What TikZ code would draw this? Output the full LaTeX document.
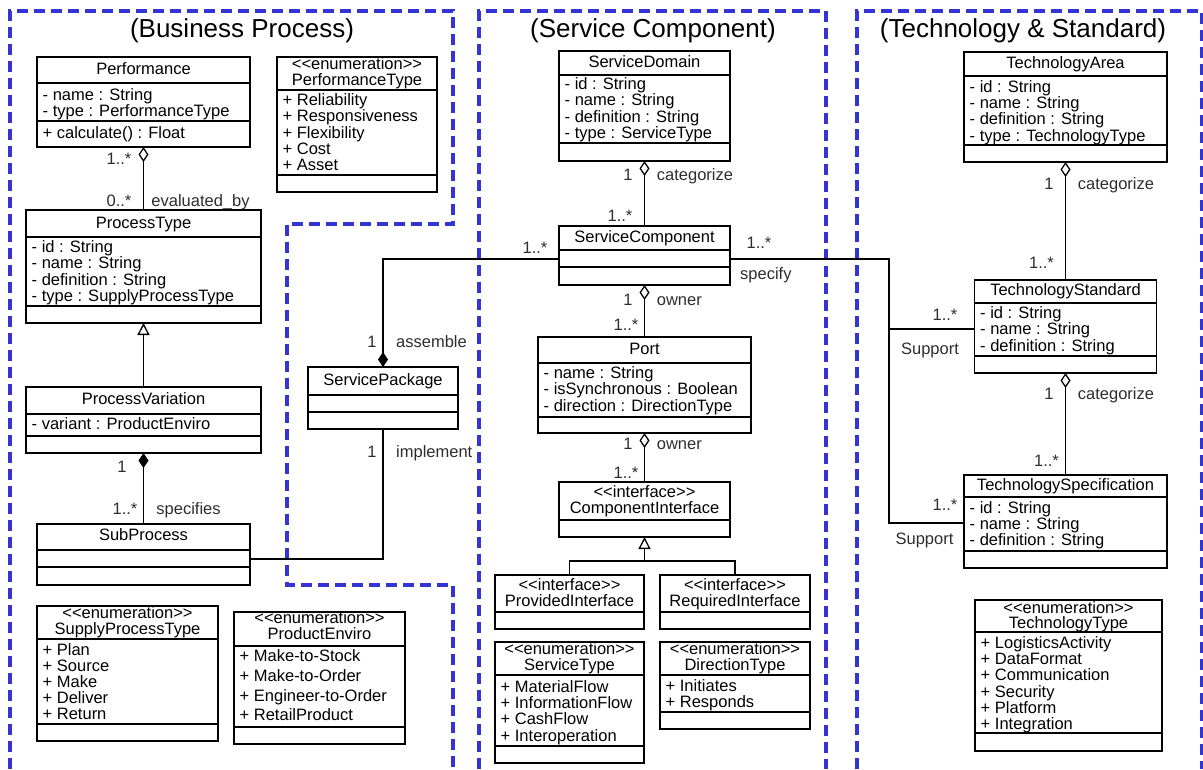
\documentclass[tikz,border=0pt]{standalone}
\usepackage{fontspec}
\setmainfont{Liberation Sans}
\usetikzlibrary{arrows.meta}
\definecolor{pkg}{RGB}{51,51,214}
\definecolor{lab}{RGB}{45,45,45}
\newcommand\stereo[1]{<\kern0pt<#1>\kern0pt>}

\begin{document}
\begin{tikzpicture}[x=1pt, y=-1pt,
    cls/.style={draw, line width=1.6pt, inner sep=0pt, outer sep=0pt},
    sep/.style={line width=1.6pt},
    hdr/.style={anchor=base, inner sep=0pt, align=center, font=\fontsize{16.5}{16}\selectfont},
    txt/.style={anchor=base west, inner sep=0pt, align=left, font=\fontsize{16.5}{16.2}\selectfont},
    lbl/.style={anchor=base, inner sep=0pt, text=lab, font=\fontsize{16.5}{16}\selectfont},
    con/.style={line width=1.3pt},
    agg/.style={con, {Diamond[open, length=15pt, width=10pt]}-},
    cmp/.style={con, {Diamond[length=15pt, width=10pt]}-},
    gen/.style={con, -{Triangle[open, length=12pt, width=12pt]}},
    pkgline/.style={pkg, line width=3.5pt, dash pattern=on 11pt off 6pt},
    ttl/.style={anchor=base, inner sep=0pt, font=\fontsize{26}{26}\selectfont}]
  \useasboundingbox (0,0) rectangle (1203,769);

  \draw[pkgline] (10,769) -- (10,11) -- (453,11) -- (453,224) -- (287,224) -- (287,585) -- (453,585) -- (453,769);
  \draw[pkgline] (479,769) -- (479,11) -- (826,11) -- (826,769);
  \draw[pkgline] (857,769) -- (857,11) -- (1202,11) -- (1202,769);
  \node[ttl] at (242,37) {(Business Process)};
  \node[ttl] at (653,37) {(Service Component)};
  \node[ttl] at (1023,37) {(Technology \& Standard)};

  \node[cls, minimum width=213pt, minimum height=90pt] (perf) at (143.5,102) {};
  \draw[sep] ([yshift=-26pt]perf.north west) -- ([yshift=-26pt]perf.north east);
  \draw[sep] ([yshift=-64pt]perf.north west) -- ([yshift=-64pt]perf.north east);
  \node[hdr] at (143.5,74.7) {Performance};
  \node[txt] at (42.5,116.9) {- name : String\\- type : PerformanceType};
  \node[txt] at (42.5,138.7) {+ calculate() : Float};

  \node[cls, minimum width=160pt, minimum height=135pt] (perftype) at (357,124.5) {};
  \draw[sep] ([yshift=-33pt]perftype.north west) -- ([yshift=-33pt]perftype.north east);
  \draw[sep] ([yshift=-118pt]perftype.north west) -- ([yshift=-118pt]perftype.north east);
  \node[hdr] at (357,85) {\stereo{enumeration}\\PerformanceType};
  \node[txt] at (282.5,170.5) {+ Reliability\\+ Responsiveness\\+ Flexibility\\+ Cost\\+ Asset};

  \node[cls, minimum width=235pt, minimum height=113pt] (proctype) at (143.5,266.5) {};
  \draw[sep] ([yshift=-27pt]proctype.north west) -- ([yshift=-27pt]proctype.north east);
  \draw[sep] ([yshift=-96pt]proctype.north west) -- ([yshift=-96pt]proctype.north east);
  \node[hdr] at (143.5,228.7) {ProcessType};
  \node[txt] at (31.5,301.3) {- id : String\\- name : String\\- definition : String\\- type : SupplyProcessType};

  \node[cls, minimum width=235pt, minimum height=66pt] (procvar) at (143.5,420) {};
  \draw[sep] ([yshift=-27pt]procvar.north west) -- ([yshift=-27pt]procvar.north east);
  \draw[sep] ([yshift=-49pt]procvar.north west) -- ([yshift=-49pt]procvar.north east);
  \node[hdr] at (143.5,404.7) {ProcessVariation};
  \node[txt] at (31.5,429.7) {- variant : ProductEnviro};

  \node[cls, minimum width=213pt, minimum height=61pt] (subproc) at (143.5,554.5) {};
  \draw[sep] ([yshift=-26pt]subproc.north west) -- ([yshift=-26pt]subproc.north east);
  \draw[sep] ([yshift=-43pt]subproc.north west) -- ([yshift=-43pt]subproc.north east);
  \node[hdr] at (143.5,540.7) {SubProcess};

  \node[cls, minimum width=181pt, minimum height=135pt] (supplytype) at (127.5,673.5) {};
  \draw[sep] ([yshift=-33pt]supplytype.north west) -- ([yshift=-33pt]supplytype.north east);
  \draw[sep] ([yshift=-118pt]supplytype.north west) -- ([yshift=-118pt]supplytype.north east);
  \node[hdr] at (127.5,634) {\stereo{enumeration}\\SupplyProcessType};
  \node[txt] at (42.5,719.8) {+ Plan\\+ Source\\+ Make\\+ Deliver\\+ Return};

  \node[cls, minimum width=171pt, minimum height=132pt] (prodenv) at (319.5,678) {};
  \draw[sep] ([yshift=-34pt]prodenv.north west) -- ([yshift=-34pt]prodenv.north east);
  \draw[sep] ([yshift=-115pt]prodenv.north west) -- ([yshift=-115pt]prodenv.north east);
  \node[hdr] at (319.5,639) {\stereo{enumeration}\\ProductEnviro};
  \node[txt, font=\fontsize{16.5}{19.7}\selectfont] at (239.5,720.8) {+ Make-to-Stock\\+ Make-to-Order\\+ Engineer-to-Order\\+ RetailProduct};

  \node[cls, minimum width=150pt, minimum height=62pt] (servpkg) at (383,398) {};
  \draw[sep] ([yshift=-28pt]servpkg.north west) -- ([yshift=-28pt]servpkg.north east);
  \draw[sep] ([yshift=-45pt]servpkg.north west) -- ([yshift=-45pt]servpkg.north east);
  \node[hdr] at (383,385) {ServicePackage};

  \node[cls, minimum width=171pt, minimum height=110pt] (servdom) at (644.5,106) {};
  \draw[sep] ([yshift=-24pt]servdom.north west) -- ([yshift=-24pt]servdom.north east);
  \draw[sep] ([yshift=-92pt]servdom.north west) -- ([yshift=-92pt]servdom.north east);
  \node[hdr] at (644.5,67.4) {ServiceDomain};
  \node[txt] at (564.5,138.3) {- id : String\\- name : String\\- definition : String\\- type : ServiceType};

  \node[cls, minimum width=171pt, minimum height=59pt] (servcomp) at (644.5,255.5) {};
  \draw[sep] ([yshift=-24pt]servcomp.north west) -- ([yshift=-24pt]servcomp.north east);
  \draw[sep] ([yshift=-41pt]servcomp.north west) -- ([yshift=-41pt]servcomp.north east);
  \node[hdr] at (644.5,242.4) {ServiceComponent};

  \node[cls, minimum width=213pt, minimum height=96pt] (port) at (644.5,385) {};
  \draw[sep] ([yshift=-26pt]port.north west) -- ([yshift=-26pt]port.north east);
  \draw[sep] ([yshift=-80pt]port.north west) -- ([yshift=-80pt]port.north east);
  \node[hdr] at (644.5,354) {Port};
  \node[txt] at (543.5,411.1) {- name : String\\- isSynchronous : Boolean\\- direction : DirectionType};

  \node[cls, minimum width=171pt, minimum height=55pt] (compif) at (644.5,509.5) {};
  \draw[sep] ([yshift=-38pt]compif.north west) -- ([yshift=-38pt]compif.north east);
  \node[hdr] at (644.5,513) {\stereo{interface}\\ComponentInterface};

  \node[cls, minimum width=149pt, minimum height=54pt] (provif) at (569.5,602) {};
  \draw[sep] ([yshift=-37pt]provif.north west) -- ([yshift=-37pt]provif.north east);
  \node[hdr] at (569.5,606) {\stereo{interface}\\ProvidedInterface};

  \node[cls, minimum width=150pt, minimum height=54pt] (reqif) at (735,602) {};
  \draw[sep] ([yshift=-37pt]reqif.north west) -- ([yshift=-37pt]reqif.north east);
  \node[hdr] at (735,606) {\stereo{interface}\\RequiredInterface};

  \node[cls, minimum width=149pt, minimum height=121pt] (servtype) at (569.5,702.5) {};
  \draw[sep] ([yshift=-33pt]servtype.north west) -- ([yshift=-33pt]servtype.north east);
  \draw[sep] ([yshift=-104pt]servtype.north west) -- ([yshift=-104pt]servtype.north east);
  \node[hdr] at (569.5,670) {\stereo{enumeration}\\ServiceType};
  \node[txt] at (500.5,741) {+ MaterialFlow\\+ InformationFlow\\+ CashFlow\\+ Interoperation};

  \node[cls, minimum width=150pt, minimum height=87pt] (dirtype) at (735,685.5) {};
  \draw[sep] ([yshift=-33pt]dirtype.north west) -- ([yshift=-33pt]dirtype.north east);
  \draw[sep] ([yshift=-70pt]dirtype.north west) -- ([yshift=-70pt]dirtype.north east);
  \node[hdr] at (735,670) {\stereo{enumeration}\\DirectionType};
  \node[txt] at (665.5,707.6) {+ Initiates\\+ Responds};

  \node[cls, minimum width=203pt, minimum height=110pt] (techarea) at (1065.5,107) {};
  \draw[sep] ([yshift=-24pt]techarea.north west) -- ([yshift=-24pt]techarea.north east);
  \draw[sep] ([yshift=-93pt]techarea.north west) -- ([yshift=-93pt]techarea.north east);
  \node[hdr] at (1065.5,68.4) {TechnologyArea};
  \node[txt] at (969.5,141) {- id : String\\- name : String\\- definition : String\\- type : TechnologyType};

  \node[cls, minimum width=182pt, minimum height=93pt] (techstd) at (1065.5,326.5) {};
  \draw[sep] ([yshift=-23pt]techstd.north west) -- ([yshift=-23pt]techstd.north east);
  \draw[sep] ([yshift=-76pt]techstd.north west) -- ([yshift=-76pt]techstd.north east);
  \node[hdr] at (1065.5,295) {TechnologyStandard};
  \node[txt] at (980,351.1) {- id : String\\- name : String\\- definition : String};

  \node[cls, minimum width=203pt, minimum height=93pt] (techspec) at (1065.5,521.5) {};
  \draw[sep] ([yshift=-22pt]techspec.north west) -- ([yshift=-22pt]techspec.north east);
  \draw[sep] ([yshift=-76pt]techspec.north west) -- ([yshift=-76pt]techspec.north east);
  \node[hdr] at (1065.5,490) {TechnologySpecification};
  \node[txt] at (969.5,545.8) {- id : String\\- name : String\\- definition : String};

  \node[cls, minimum width=187pt, minimum height=151pt] (techtype) at (1068.5,675.5) {};
  \draw[sep] ([yshift=-32pt]techtype.north west) -- ([yshift=-32pt]techtype.north east);
  \draw[sep] ([yshift=-133pt]techtype.north west) -- ([yshift=-133pt]techtype.north east);
  \node[hdr, font=\fontsize{16.5}{15}\selectfont] at (1068.5,628) {\stereo{enumeration}\\TechnologyType};
  \node[txt] at (980.5,729.4) {+ LogisticsActivity\\+ DataFormat\\+ Communication\\+ Security\\+ Platform\\+ Integration};

  \draw[agg] (perf.south) -- (proctype.north);
  \node[lbl] at (119,164) {1..*};
  \node[lbl] at (119,206) {0..*};
  \node[lbl] at (200.5,206) {evaluated\_by};
  \draw[gen] (procvar.north) -- (proctype.south);
  \draw[cmp] (procvar.south) -- (subproc.north);
  \node[lbl] at (122,472) {1};
  \node[lbl] at (125,514) {1..*};
  \node[lbl] at (188.5,514) {specifies};

  \draw[cmp] (servpkg.north) |- ([yshift=-3.5pt]servcomp.west);
  \node[lbl] at (372,347) {1};
  \node[lbl, anchor=base west] at (396,347) {assemble};
  \node[lbl] at (535,253) {1..*};
  \draw[con] (servpkg.south) |- ([yshift=-4.5pt]subproc.east);
  \node[lbl] at (372,457) {1};
  \node[lbl, anchor=base west] at (396,457) {implement};

  \draw[agg] (servdom.south) -- (servcomp.north);
  \node[lbl] at (628,180) {1};
  \node[lbl, anchor=base west] at (656.7,180) {categorize};
  \node[lbl] at (620,221.7) {1..*};

  \coordinate (spec) at (889,259);
  \draw[con] ([yshift=-3.5pt]servcomp.east) -- (spec) |- ([yshift=-2.5pt]techstd.west);
  \draw[con] (spec) |- ([yshift=-1.5pt]techspec.west);
  \node[lbl] at (759,248) {1..*};
  \node[lbl, anchor=base west] at (740,279) {specify};
  \node[lbl] at (945,320) {1..*};
  \node[lbl] at (930,354) {Support};
  \node[lbl] at (945,510.7) {1..*};
  \node[lbl] at (924.5,544) {Support};

  \draw[agg] (servcomp.south) -- (port.north);
  \node[lbl] at (628,305) {1};
  \node[lbl, anchor=base west] at (656.7,305) {owner};
  \node[lbl] at (626,330) {1..*};
  \draw[agg] (port.south) -- (compif.north);
  \node[lbl] at (628,449) {1};
  \node[lbl, anchor=base west] at (656.7,449) {owner};
  \node[lbl] at (626,478) {1..*};
  \coordinate (fork) at (644.5,561);
  \draw[gen] (fork) -- (compif.south);
  \draw[con] (provif.north) |- (fork) -| (reqif.north);

  \draw[agg] (techarea.south) -- (techstd.north);
  \node[lbl] at (1049,189) {1};
  \node[lbl, anchor=base west] at (1077.7,189) {categorize};
  \node[lbl] at (1041.5,268) {1..*};
  \draw[agg] (techstd.south) -- (techspec.north);
  \node[lbl] at (1049,399) {1};
  \node[lbl, anchor=base west] at (1077.7,399) {categorize};
  \node[lbl] at (1046.5,466) {1..*};
\end{tikzpicture}
\end{document}
